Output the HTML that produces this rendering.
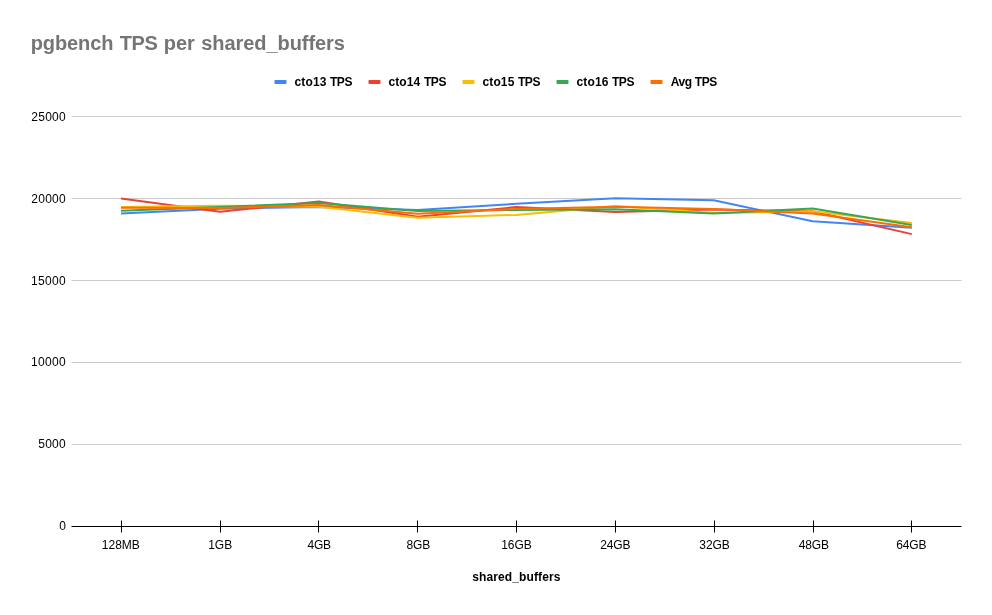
<!DOCTYPE html>
<html><head><meta charset="utf-8"><title>pgbench TPS per shared_buffers</title>
<style>
html,body{margin:0;padding:0;background:#fff;}
body{width:992px;height:615px;overflow:hidden;font-family:"Liberation Sans",Arial,sans-serif;}
svg{display:block;}
text{font-family:"Liberation Sans",Arial,sans-serif;white-space:pre;}
.t{font-size:20px;font-weight:bold;fill:#757575;}
.a{font-size:12px;fill:#000;}
.l{font-size:12px;font-weight:bold;fill:#000;}
</style></head><body>
<svg width="992" height="615" viewBox="0 0 992 615">
<rect width="992" height="615" fill="#fff"/>
<rect x="274.5" y="80" width="12" height="4" rx="0.7" fill="#4285f4"/>
<rect x="368.5" y="80" width="12" height="4" rx="0.7" fill="#ea4335"/>
<rect x="462.5" y="80" width="12" height="4" rx="0.7" fill="#fbbc04"/>
<rect x="556.5" y="80" width="12" height="4" rx="0.7" fill="#34a853"/>
<rect x="650.5" y="80" width="12" height="4" rx="0.7" fill="#ff6d01"/>
<rect x="71.5" y="116" width="890" height="1" fill="#ccc"/>
<rect x="71.5" y="198" width="890" height="1" fill="#ccc"/>
<rect x="71.5" y="280" width="890" height="1" fill="#ccc"/>
<rect x="71.5" y="362" width="890" height="1" fill="#ccc"/>
<rect x="71.5" y="444" width="890" height="1" fill="#ccc"/>
<polyline fill="none" stroke="#4285f4" stroke-width="2" stroke-linejoin="round" points="121.0,213.4 219.95,208.75 318.7,206.9 417.65,209.94 516.5,203.74 615.3,198.2 713.7,200.2 812.7,221.3 911.8,227.65"/>
<polyline fill="none" stroke="#ea4335" stroke-width="2" stroke-linejoin="round" points="121.0,198.6 219.95,211.85 318.7,201.4 417.65,216.8 516.5,207.0 615.3,211.9 713.7,209.6 812.7,211.3 911.8,234.1"/>
<polyline fill="none" stroke="#fbbc04" stroke-width="2" stroke-linejoin="round" points="121.0,207.0 219.95,205.75 318.7,206.65 417.65,217.7 516.5,214.9 615.3,205.9 713.7,213.0 812.7,211.3 911.8,222.9"/>
<polyline fill="none" stroke="#34a853" stroke-width="2" stroke-linejoin="round" points="121.0,210.87 219.95,207.0 318.7,203.0 417.65,210.96 516.5,210.06 615.3,209.26 713.7,213.4 812.7,208.6 911.8,225.0"/>
<polyline fill="none" stroke="#ff6d01" stroke-width="2" stroke-linejoin="round" points="121.0,207.85 219.95,208.0 318.7,205.0 417.65,213.8 516.5,208.9 615.3,206.7 713.7,209.1 812.7,213.4 911.8,227.2"/>
<rect x="71.5" y="526" width="890" height="1" fill="#000"/>
<rect x="121" y="520.5" width="1" height="12" fill="#000"/>
<rect x="220" y="520.5" width="1" height="12" fill="#000"/>
<rect x="318" y="520.5" width="1" height="12" fill="#000"/>
<rect x="417" y="520.5" width="1" height="12" fill="#000"/>
<rect x="516" y="520.5" width="1" height="12" fill="#000"/>
<rect x="615" y="520.5" width="1" height="12" fill="#000"/>
<rect x="714" y="520.5" width="1" height="12" fill="#000"/>
<rect x="813" y="520.5" width="1" height="12" fill="#000"/>
<rect x="911" y="520.5" width="1" height="12" fill="#000"/>
<text class="t" y="50"><tspan x="30.67" letter-spacing="-0.1">pgbench </tspan><tspan x="119.75" letter-spacing="-0.35">TPS </tspan><tspan x="163.84" letter-spacing="-0.05">per </tspan><tspan x="201.17" letter-spacing="-0.054">shared_buffers</tspan></text>
<text class="l" y="86"><tspan x="294.43" letter-spacing="0.192">cto13 </tspan><tspan x="329.90" letter-spacing="-0.360">TPS</tspan></text>
<text class="l" y="86"><tspan x="388.43" letter-spacing="0.108">cto14 </tspan><tspan x="423.90" letter-spacing="-0.360">TPS</tspan></text>
<text class="l" y="86"><tspan x="482.43" letter-spacing="0.150">cto15 </tspan><tspan x="517.90" letter-spacing="-0.360">TPS</tspan></text>
<text class="l" y="86"><tspan x="576.43" letter-spacing="0.192">cto16 </tspan><tspan x="611.90" letter-spacing="-0.360">TPS</tspan></text>
<text class="l" x="670.67" y="86" letter-spacing="-0.372">Avg TPS</text>
<text class="l" x="472.33" y="581" letter-spacing="0.102">shared_buffers</text>
<text class="a" x="101.83" y="549">128MB</text>
<text class="a" x="208.17" y="549">1GB</text>
<text class="a" x="307.50" y="549" letter-spacing="-0.208">4GB</text>
<text class="a" x="406.50" y="549" letter-spacing="-0.167">8GB</text>
<text class="a" x="501.17" y="549" letter-spacing="-0.056">16GB</text>
<text class="a" x="600.17" y="549" letter-spacing="-0.083">24GB</text>
<text class="a" x="699.33" y="549" letter-spacing="-0.056">32GB</text>
<text class="a" x="798.67" y="549" letter-spacing="-0.139">48GB</text>
<text class="a" x="896.17" y="549" letter-spacing="-0.083">64GB</text>
<text class="a" x="31.34" y="121" letter-spacing="0.246">25000</text>
<text class="a" x="31.34" y="203" letter-spacing="0.246">20000</text>
<text class="a" x="31.00" y="285" letter-spacing="0.329">15000</text>
<text class="a" x="31.00" y="366" letter-spacing="0.329">10000</text>
<text class="a" x="38.34" y="448" letter-spacing="0.217">5000</text>
<text class="a" x="59.34" y="530">0</text>
</svg></body></html>
